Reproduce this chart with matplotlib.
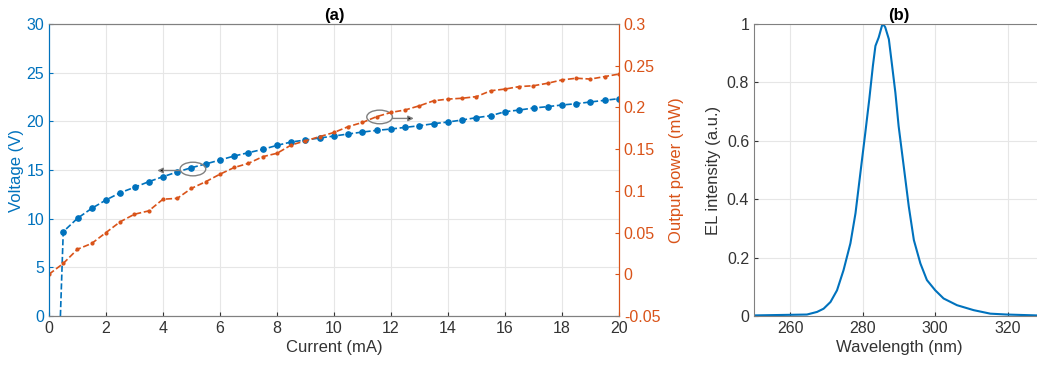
import matplotlib
matplotlib.use("Agg")
import matplotlib.pyplot as plt
from matplotlib.patches import Ellipse
from matplotlib.ticker import FormatStrFormatter

plt.rcParams['font.family'] = ['Liberation Sans', 'DejaVu Sans']

# (a) L-I-V data
current = [0.4, 0.5, 1, 1.5, 2, 2.5, 3, 3.5, 4, 4.5, 5, 5.5, 6, 6.5, 7, 7.5, 8, 8.5, 9, 9.5, 10,
           10.5, 11, 11.5, 12, 12.5, 13, 13.5, 14, 14.5, 15, 15.5, 16, 16.5, 17, 17.5, 18, 18.5,
           19, 19.5, 20]
voltage = [0, 8.66, 10.04, 11.06, 11.92, 12.67, 13.22, 13.8, 14.31, 14.8, 15.24, 15.62, 16.03,
           16.44, 16.78, 17.12, 17.53, 17.88, 18.08, 18.29, 18.49, 18.7, 18.9, 19.07, 19.21,
           19.38, 19.55, 19.76, 19.93, 20.14, 20.38, 20.58, 20.99, 21.16, 21.37, 21.51, 21.68,
           21.81, 21.99, 22.16, 22.33]
current_p = [0, 0.5, 1, 1.5, 2, 2.5, 3, 3.5, 4, 4.5, 5, 5.5, 6, 6.5, 7, 7.5, 8, 8.5, 9, 9.5, 10,
             10.5, 11, 11.5, 12, 12.5, 13, 13.5, 14, 14.5, 15, 15.5, 16, 16.5, 17, 17.5, 18, 18.5,
             19, 19.5, 20]
power = [0.0, 0.013, 0.030, 0.037, 0.050, 0.063, 0.072, 0.076, 0.090, 0.091, 0.103, 0.111,
         0.120, 0.128, 0.133, 0.141, 0.145, 0.155, 0.160, 0.165, 0.170, 0.177, 0.182, 0.189,
         0.194, 0.197, 0.202, 0.208, 0.210, 0.211, 0.213, 0.220, 0.222, 0.225, 0.226, 0.229,
         0.233, 0.235, 0.234, 0.237, 0.240]

# (b) EL spectrum
wavelength = [250, 264.6, 267.4, 269.2, 271.1, 272.9, 274.7, 276.6, 278, 278.9, 279.8, 280.7,
              281.8, 282.8, 283.5, 284.4, 285.3, 285.6, 286.2, 287.2, 288.1, 289, 289.9, 291.3,
              292.7, 294.1, 295.9, 297.7, 300, 302.3, 306, 310.6, 315.2, 319.8, 328, 332]
el = [0.002, 0.005, 0.014, 0.025, 0.048, 0.088, 0.157, 0.249, 0.352, 0.444, 0.536, 0.627,
      0.742, 0.857, 0.925, 0.954, 0.994, 1.0, 0.989, 0.948, 0.857, 0.765, 0.65, 0.513, 0.375,
      0.26, 0.18, 0.123, 0.088, 0.06, 0.037, 0.02, 0.008, 0.005, 0.002, 0.002]

blue = '#0072BD'
orange = '#D95319'
grey = '#333333'
fs_lab = 12
fs_tick = 11.5

fig = plt.figure(figsize=(10.37, 3.67), dpi=100)
ax1 = fig.add_axes([49/1037, 51/367, 570/1037, 292/367])
ax2 = ax1.twinx()
ax3 = fig.add_axes([754/1037, 51/367, 290/1037, 292/367])

ax1.plot(current, voltage, '--', color=blue, lw=1.2, marker='o', ms=3.8,
         markevery=list(range(1, len(current))))
ax2.plot(current_p, power, '--', color=orange, lw=1.2, marker='.', ms=4)

ax1.set_xlim(0, 20)
ax1.set_ylim(0, 30)
ax2.set_ylim(-0.05, 0.3)
ax1.set_xticks(range(0, 21, 2))
ax1.set_yticks(range(0, 31, 5))
ax2.set_yticks([-0.05, 0, 0.05, 0.1, 0.15, 0.2, 0.25, 0.3])
ax2.yaxis.set_major_formatter(FormatStrFormatter('%g'))
ax1.grid(True, color='#e6e6e6', lw=0.8)
ax1.set_axisbelow(True)

ax1.set_xlabel('Current (mA)', fontsize=fs_lab, color=grey, labelpad=3)
ax1.set_ylabel('Voltage (V)', fontsize=fs_lab, color=blue, labelpad=2)
ax2.set_ylabel('Output power (mW)', fontsize=fs_lab, color=orange, labelpad=6)
ax1.set_title('(a)', fontsize=fs_lab, fontweight='bold', pad=3)

ax1.tick_params(axis='x', direction='in', colors=grey, labelsize=fs_tick, length=3)
ax1.tick_params(axis='y', direction='in', colors=blue, labelsize=fs_tick, length=3)
ax2.tick_params(axis='y', direction='in', colors=orange, labelsize=fs_tick, length=3)
for ax in (ax1, ax2):
    ax.spines['top'].set_color('#808080')
    ax.spines['bottom'].set_color('#808080')
    ax.spines['left'].set_color(blue)
    ax.spines['right'].set_color(orange)
    for s in ax.spines.values():
        s.set_linewidth(0.8)

# annotation ellipses and arrows
ax1.add_patch(Ellipse((5.05, 15.1), 0.9, 1.4, fill=False, ec='#808080', lw=1.0, zorder=5))
ax1.annotate('', xy=(3.8, 14.95), xytext=(4.6, 14.95),
             arrowprops=dict(arrowstyle='-|>', color='#808080', fc='black', lw=1.0,
                             mutation_scale=8, shrinkA=0, shrinkB=0))
ax1.add_patch(Ellipse((11.6, 20.45), 0.9, 1.4, fill=False, ec='#808080', lw=1.0, zorder=5))
ax1.annotate('', xy=(12.8, 20.3), xytext=(12.05, 20.3),
             arrowprops=dict(arrowstyle='-|>', color='#808080', fc='black', lw=1.0,
                             mutation_scale=8, shrinkA=0, shrinkB=0))

# (b)
ax3.plot(wavelength, el, color=blue, lw=1.5)
ax3.set_xlim(250, 330)
ax3.set_ylim(0, 1)
ax3.set_xticks([260, 280, 300, 320])
ax3.set_yticks([0, 0.2, 0.4, 0.6, 0.8, 1])
ax3.yaxis.set_major_formatter(FormatStrFormatter('%g'))
ax3.grid(True, color='#e6e6e6', lw=0.8)
ax3.set_axisbelow(True)
ax3.set_xlabel('Wavelength (nm)', fontsize=fs_lab, color=grey, labelpad=3)
ax3.set_ylabel('EL intensity (a.u.)', fontsize=fs_lab, color=grey)
ax3.set_title('(b)', fontsize=fs_lab, fontweight='bold', pad=3)
ax3.tick_params(direction='in', colors=grey, labelsize=fs_tick, length=3)
for s in ax3.spines.values():
    s.set_color('#808080')
    s.set_linewidth(0.8)

fig.savefig('out.png', dpi=100)
